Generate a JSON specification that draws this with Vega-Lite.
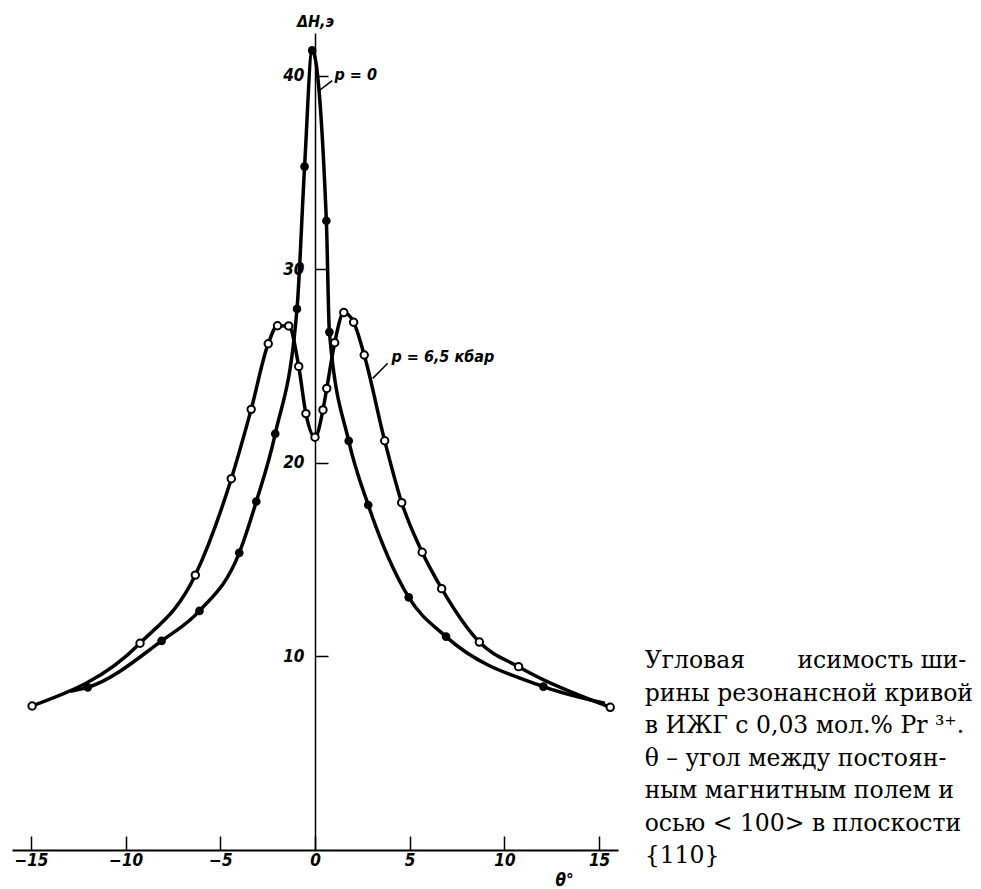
{
  "$schema": "https://vega.github.io/schema/vega-lite/v6.json",
  "width": 606,
  "height": 817,
  "autosize": {"type": "none"},
  "padding": {"left": 12, "top": 33, "right": 363, "bottom": 39},
  "background": "white",
  "config": {"view": {"stroke": null}},
  "datasets": {
    "p0": [
      {"a": -12.9, "w": 8.2, "m": false},
      {"a": -12.0, "w": 8.4, "m": true},
      {"a": -8.1, "w": 10.8, "m": true},
      {"a": -6.1, "w": 12.35, "m": true},
      {"a": -4.0, "w": 15.35, "m": true},
      {"a": -3.1, "w": 18.0, "m": true},
      {"a": -2.1, "w": 21.5, "m": true},
      {"a": -0.95, "w": 27.95, "m": true},
      {"a": -0.55, "w": 35.3, "m": true},
      {"a": -0.15, "w": 41.3, "m": true},
      {"a": 0.6, "w": 32.5, "m": true},
      {"a": 0.76, "w": 26.75, "m": true},
      {"a": 1.78, "w": 21.13, "m": true},
      {"a": 2.81, "w": 17.82, "m": true},
      {"a": 4.95, "w": 13.05, "m": true},
      {"a": 6.92, "w": 11.02, "m": true},
      {"a": 12.06, "w": 8.44, "m": true},
      {"a": 15.3, "w": 7.58, "m": false}
    ],
    "p65": [
      {"a": -14.94, "w": 7.44},
      {"a": -9.24, "w": 10.68},
      {"a": -6.32, "w": 14.2},
      {"a": -4.42, "w": 19.18},
      {"a": -3.37, "w": 22.76},
      {"a": -2.47, "w": 26.15},
      {"a": -1.98, "w": 27.08},
      {"a": -1.39, "w": 27.07},
      {"a": -0.86, "w": 24.98},
      {"a": -0.48, "w": 22.54},
      {"a": 0.0, "w": 21.32},
      {"a": 0.42, "w": 22.73},
      {"a": 0.62, "w": 23.84},
      {"a": 1.04, "w": 26.2},
      {"a": 1.52, "w": 27.76},
      {"a": 2.04, "w": 27.26},
      {"a": 2.6, "w": 25.57},
      {"a": 3.68, "w": 21.14},
      {"a": 4.58, "w": 17.94},
      {"a": 5.66, "w": 15.38},
      {"a": 6.69, "w": 13.5},
      {"a": 8.68, "w": 10.74},
      {"a": 10.75, "w": 9.47},
      {"a": 15.59, "w": 7.37}
    ],
    "leaders": [
      {"a": 0.27, "w": 39.26, "a2": 0.91, "w2": 39.74},
      {"a": 3.05, "w": 24.36, "a2": 3.84, "w2": 25.14}
    ],
    "notes": [
      {"a": 1.03, "w": 40.03, "t": "p = 0"},
      {"a": 4.04, "w": 25.46, "t": "p = 6,5 кбар"}
    ],
    "caption": [
      {"a": 17.41, "w": 9.385}
    ]
  },
  "encoding": {
    "x": {
      "field": "a",
      "type": "quantitative",
      "scale": {"domain": [-16, 16], "nice": false, "zero": false},
      "axis": {
        "values": [-15, -10, -5, 0, 5, 10, 15],
        "grid": false,
        "domainColor": "black",
        "domainWidth": 2,
        "tickColor": "black",
        "tickWidth": 1.5,
        "tickSize": -14,
        "labelPadding": 16,
        "labelFont": "Liberation Sans Narrow, DejaVu Sans Condensed, sans-serif",
        "labelFontSize": 17,
        "labelFontStyle": "italic",
        "labelFontWeight": "bold",
        "labelColor": "black",
        "title": "θ°",
        "titleX": 552,
        "titleY": 30,
        "titleAlign": "center",
        "titleBaseline": "middle",
        "titleFont": "Liberation Sans Narrow, DejaVu Sans Condensed, sans-serif",
        "titleFontSize": 17,
        "titleFontStyle": "italic",
        "titleFontWeight": "bold",
        "titleColor": "black"
      }
    },
    "y": {
      "field": "w",
      "type": "quantitative",
      "scale": {"domain": [0, 42.2], "nice": false},
      "axis": {
        "orient": "left",
        "offset": -303,
        "values": [10, 20, 30, 40],
        "grid": false,
        "domainColor": "black",
        "domainWidth": 1.5,
        "tickColor": "black",
        "tickWidth": 1.5,
        "tickSize": -13,
        "labelPadding": 24,
        "labelFont": "Liberation Sans Narrow, DejaVu Sans Condensed, sans-serif",
        "labelFontSize": 17,
        "labelFontStyle": "italic",
        "labelFontWeight": "bold",
        "labelColor": "black",
        "title": "ΔH,э",
        "titleAngle": 0,
        "titleX": 0,
        "titleY": -12,
        "titleAlign": "center",
        "titleBaseline": "middle",
        "titleFont": "Liberation Sans Narrow, DejaVu Sans Condensed, sans-serif",
        "titleFontSize": 16,
        "titleFontStyle": "italic",
        "titleFontWeight": "bold",
        "titleColor": "black"
      }
    }
  },
  "layer": [
    {
      "data": {"name": "p0"},
      "mark": {"type": "line", "interpolate": "monotone", "color": "black", "strokeWidth": 3.5}
    },
    {
      "data": {"name": "p65"},
      "mark": {"type": "line", "interpolate": "monotone", "color": "black", "strokeWidth": 3.5}
    },
    {
      "data": {"name": "p0"},
      "transform": [{"filter": "datum.m"}],
      "mark": {"type": "circle", "color": "black", "size": 75, "opacity": 1}
    },
    {
      "data": {"name": "p65"},
      "mark": {"type": "circle", "fill": "white", "stroke": "black", "strokeWidth": 2, "size": 55, "opacity": 1, "fillOpacity": 1}
    },
    {
      "data": {"name": "leaders"},
      "mark": {"type": "rule", "color": "black", "strokeWidth": 1.5},
      "encoding": {
        "x2": {"field": "a2"},
        "y2": {"field": "w2"}
      }
    },
    {
      "data": {"name": "notes"},
      "mark": {
        "type": "text",
        "align": "left",
        "baseline": "middle",
        "font": "Liberation Sans Narrow, DejaVu Sans Condensed, sans-serif",
        "fontSize": 16,
        "fontStyle": "italic",
        "fontWeight": "bold",
        "color": "black"
      },
      "encoding": {"text": {"field": "t"}}
    },
    {
      "data": {"name": "caption"},
      "mark": {
        "type": "text",
        "text": [
          "Угловая\u00a0\u00a0\u00a0\u00a0\u00a0\u00a0\u00a0исимость ши-",
          "рины резонансной кривой",
          "в ИЖГ с 0,03 мол.% Pr\u00a0³⁺.",
          "θ – угол между постоян-",
          "ным магнитным полем и",
          "осью < 100> в плоскости",
          "{110}"
        ],
        "align": "left",
        "baseline": "alphabetic",
        "lineHeight": 32.5,
        "font": "DejaVu Serif",
        "fontSize": 23.5,
        "color": "black"
      }
    }
  ]
}
